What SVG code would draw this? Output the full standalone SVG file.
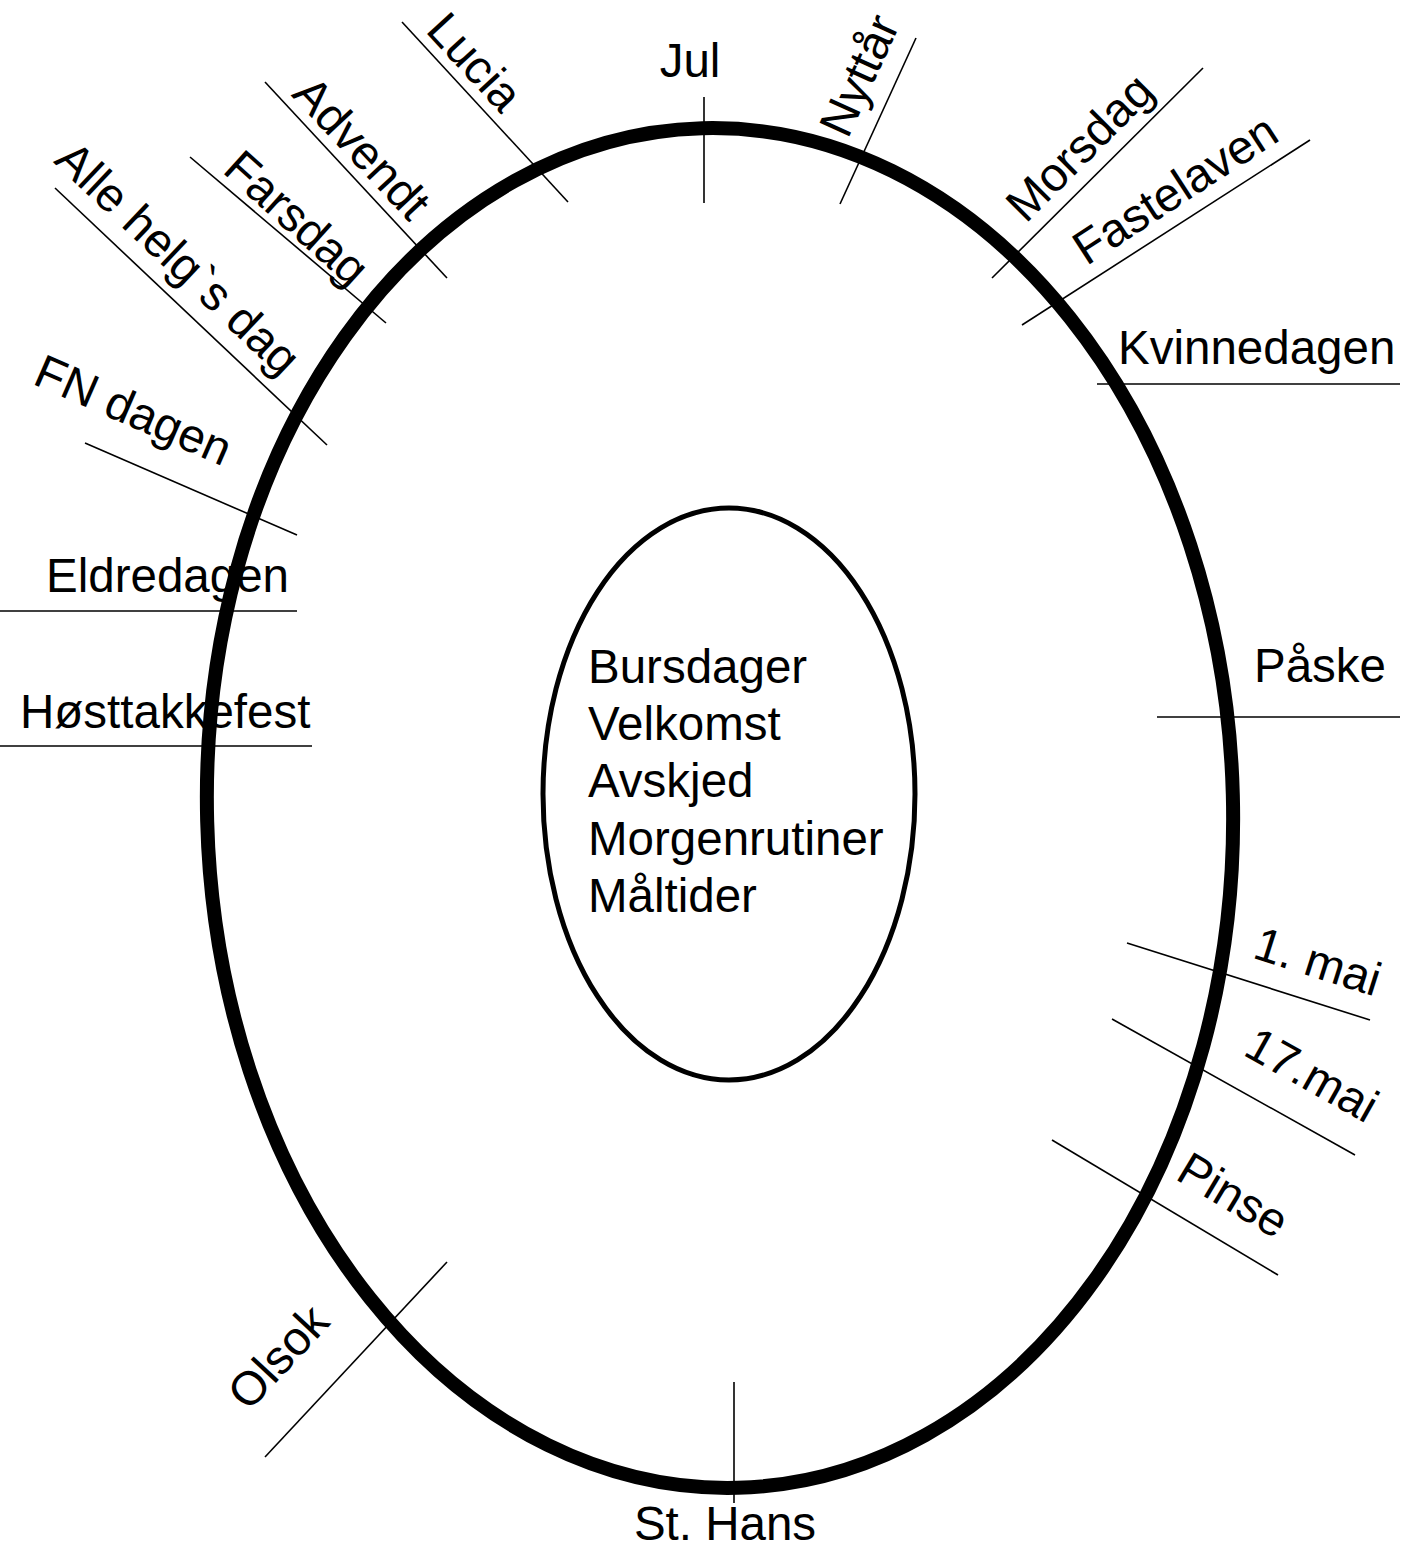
<svg xmlns="http://www.w3.org/2000/svg" width="1412" height="1550" viewBox="0 0 1412 1550">
<style>
text{font-family:"Liberation Sans",Arial,sans-serif;font-size:47.5px;fill:#000}
.tick{stroke:#000;stroke-width:1.6;fill:none}
.mid{text-anchor:middle}
</style>
<rect width="1412" height="1550" fill="#fff"/>
<g id="labels">
<g id="jul"><text class="mid" x="690" y="77">Jul</text></g>
<g id="nyttar"><text class="mid" transform="translate(874,82) rotate(-65.5)">Nyttår</text></g>
<g id="lucia"><text class="mid" transform="translate(463,73) rotate(47.3)">Lucia</text></g>
<g id="advendt"><text class="mid" transform="translate(350,159) rotate(47)">Advendt</text></g>
<g id="farsdag"><text class="mid" transform="translate(286,230) rotate(42)">Farsdag</text></g>
<g id="allehelg"><text class="mid" transform="translate(167,270) rotate(43.4)">Alle helg`s dag</text></g>
<g id="fndagen"><text class="mid" transform="translate(127,425) rotate(23.5)">FN dagen</text></g>
<g id="eldredagen"><text x="46" y="592">Eldredagen</text></g>
<g id="hosttakkefest"><text x="20" y="728">Høsttakkefest</text></g>
<g id="morsdag"><text class="mid" transform="translate(1091,159) rotate(-45)">Morsdag</text></g>
<g id="fastelaven"><text class="mid" transform="translate(1184,203) rotate(-33)">Fastelaven</text></g>
<g id="kvinnedagen"><text x="1118" y="364">Kvinnedagen</text></g>
<g id="paske"><text x="1254" y="682">Påske</text></g>
<g id="mai1"><text class="mid" transform="translate(1313,977) rotate(17.6)">1. mai</text></g>
<g id="mai17"><text class="mid" transform="translate(1304,1089) rotate(29.2)">17.mai</text></g>
<g id="pinse"><text class="mid" transform="translate(1225,1209) rotate(31)">Pinse</text></g>
<g id="olsok"><text class="mid" transform="translate(290,1368) rotate(-47)">Olsok</text></g>
<g id="sthans"><text class="mid" x="725" y="1540">St. Hans</text></g>
</g>
<g id="connectors" class="tick">
<line x1="704" y1="97" x2="704" y2="203"/>
<line x1="916" y1="38" x2="840" y2="204"/>
<line x1="402" y1="22" x2="568" y2="202"/>
<line x1="265" y1="82" x2="447" y2="278"/>
<line x1="190" y1="157" x2="386" y2="323"/>
<line x1="55" y1="188" x2="327" y2="445"/>
<line x1="85" y1="443" x2="297" y2="535"/>
<line x1="0" y1="611" x2="297" y2="611"/>
<line x1="0" y1="746" x2="312" y2="746"/>
<line x1="1203" y1="68" x2="992" y2="278"/>
<line x1="1310" y1="140" x2="1022" y2="325"/>
<line x1="1097" y1="384" x2="1400" y2="384"/>
<line x1="1157" y1="717" x2="1400" y2="717"/>
<line x1="1127" y1="943" x2="1370" y2="1020"/>
<line x1="1112" y1="1019" x2="1355" y2="1155"/>
<line x1="1052" y1="1140" x2="1278" y2="1275"/>
<line x1="447" y1="1262" x2="265" y2="1457"/>
<line x1="734" y1="1382" x2="734" y2="1503"/>
</g>
<g id="ring">
<ellipse cx="720" cy="808" rx="513" ry="680" fill="none" stroke="#000" stroke-width="14" transform="rotate(-1.5 720 808)"/>
</g>
<g id="center">
<ellipse cx="729" cy="794" rx="186" ry="286" fill="none" stroke="#000" stroke-width="5"/>
<text x="588" y="683">Bursdager</text>
<text x="588" y="740">Velkomst</text>
<text x="588" y="797">Avskjed</text>
<text x="588" y="855">Morgenrutiner</text>
<text x="588" y="912">Måltider</text>
</g>
</svg>
